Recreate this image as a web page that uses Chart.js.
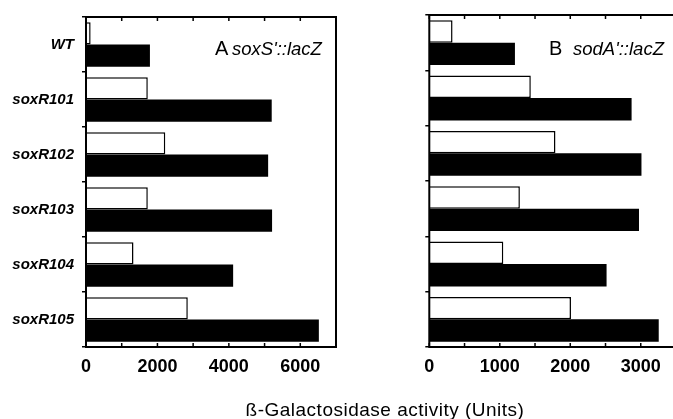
<!DOCTYPE html>
<html>
<head>
<meta charset="utf-8">
<script src="https://cdn.jsdelivr.net/npm/chart.js@4.4.1/dist/chart.umd.min.js"></script>
<style>
  html, body { margin: 0; padding: 0; background: #fff; overflow: hidden; }
  body { width: 673px; height: 419px; position: relative; }
  canvas { position: absolute; top: 0; }
  #xtitle {
    position: absolute; left: 0; width: 770px; top: 400px;
    text-align: center; font: 19px "Liberation Sans", Arial, sans-serif;
    line-height: 19px; letter-spacing: 0.5px; color: #000;
  }
</style>
</head>
<body>
<canvas id="panelA" width="345" height="419" style="left:0"></canvas>
<canvas id="panelB" width="340" height="419" style="left:345px"></canvas>
<div id="xtitle">ß-Galactosidase activity (Units)</div>
<script>
const strains = ['WT', 'soxR101', 'soxR102', 'soxR103', 'soxR104', 'soxR105'];
const soxSBasal = [130, 1730, 2220, 1730, 1330, 2850];
const soxSInduced = [1790, 5200, 5100, 5210, 4120, 6520];
const sodABasal = [330, 1440, 1790, 1285, 1050, 2010];
const sodAInduced = [1215, 2870, 3010, 2975, 2515, 3255];

const FONT = '"Liberation Sans", Arial, sans-serif';

// frame + inward x ticks + panel label
const framePlugin = {
    id: 'frame',
    afterDraw(chart, args, opts) {
        const ctx = chart.ctx;
        const a = chart.chartArea;
        const x = chart.scales.x;
        ctx.save();
        ctx.strokeStyle = '#000';
        ctx.lineWidth = 2;
        ctx.strokeRect(a.left, a.top, a.right - a.left, a.bottom - a.top);
        ctx.lineWidth = 1.5;
        x.ticks.forEach(t => {
            const px = x.getPixelForValue(t.value);
            ctx.beginPath();
            ctx.moveTo(px, a.bottom);
            ctx.lineTo(px, a.bottom - 4);
            ctx.moveTo(px, a.top);
            ctx.lineTo(px, a.top + 4);
            ctx.stroke();
        });
        ctx.fillStyle = '#000';
        ctx.textBaseline = 'alphabetic';
        ctx.font = '20px ' + FONT;
        ctx.fillText(opts.letter, opts.x, 55);
        ctx.font = 'italic 18.5px ' + FONT;
        ctx.fillText(opts.gene, opts.geneX, 55);
        ctx.restore();
    }
};

function makePanel(el, basal, induced, max, step, labelStep, showNames, yWidth, padRight, label) {
    return new Chart(el, {
        type: 'bar',
        data: {
            labels: strains,
            datasets: [{
                data: basal,
                backgroundColor: '#fff',
                borderColor: '#000',
                borderWidth: 1.5
            }, {
                data: induced,
                backgroundColor: '#000',
                borderWidth: 0
            }]
        },
        options: {
            indexAxis: 'y',
            responsive: false,
            animation: false,
            devicePixelRatio: 1,
            layout: { padding: { top: 15, right: padRight, left: 0, bottom: 0 } },
            categoryPercentage: 0.81,
            barPercentage: 1.0,
            scales: {
                x: {
                    min: 0,
                    max: max,
                    grid: { display: false, drawTicks: false },
                    border: { display: false },
                    afterFit: s => { s.height = 72; },
                    ticks: {
                        stepSize: step,
                        autoSkip: false,
                        maxRotation: 0,
                        padding: 9,
                        color: '#000',
                        font: { family: FONT, size: 18, weight: 'bold' },
                        callback: v => (v % labelStep === 0 ? String(v) : '')
                    }
                },
                y: {
                    grid: { offset: true, drawOnChartArea: false, tickLength: 4, color: '#000', lineWidth: 1.5 },
                    border: { display: false },
                    afterFit: s => { s.width = yWidth; },
                    ticks: {
                        display: showNames,
                        padding: 8,
                        color: '#000',
                        font: { family: FONT, size: 15, weight: 'bold', style: 'italic' }
                    }
                }
            },
            plugins: {
                legend: { display: false },
                tooltip: { enabled: false },
                frame: label
            }
        },
        plugins: [framePlugin]
    });
}

makePanel(document.getElementById('panelA'), soxSBasal, soxSInduced, 7000, 1000, 2000, true, 86, 4.7,
    { letter: 'A', x: 215, gene: "soxS'::lacZ", geneX: 232 });
makePanel(document.getElementById('panelB'), sodABasal, sodAInduced, 3500, 500, 1000, false, 84.3, 2.3,
    { letter: 'B', x: 204, gene: "sodA'::lacZ", geneX: 228 });
</script>
</body>
</html>
